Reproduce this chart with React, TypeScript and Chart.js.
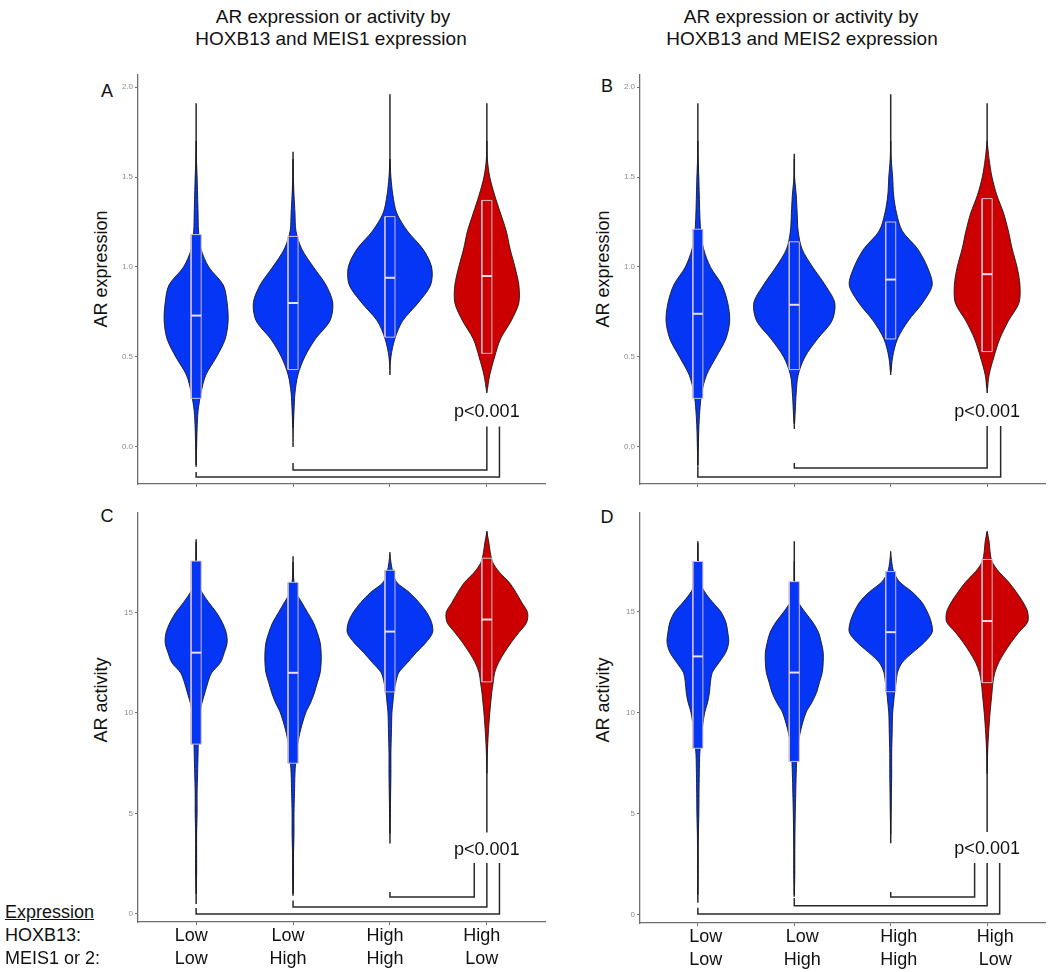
import React, { useEffect, useRef } from "react";
import { Chart, registerables } from "chart.js";

Chart.register(...registerables);

const FONT = "'Liberation Sans', Arial, Helvetica, sans-serif";

// ---------- shared categories / labels ----------
const categories = [1, 2, 3, 4];
const hoxb13Labels = ["Low", "Low", "High", "High"];
const meisLabels = ["Low", "High", "High", "Low"];
const groupColors = ["#0535f5", "#0535f5", "#0535f5", "#cc0000"];
const pValueText = "p<0.001";

const exprTicks = [0, 0.5, 1.0, 1.5, 2.0];
const actTicks = [0, 5, 10, 15];

// density levels (y) and half-widths (x units)
const exprLevels = [-0.1, 0, 0.1, 0.2, 0.3, 0.4, 0.5, 0.6, 0.7, 0.8, 0.9, 1.0, 1.1, 1.2, 1.3, 1.4, 1.5, 1.6, 1.7, 1.8, 1.9];
const actLevels = [0, 1, 2, 3, 4, 5, 6, 7, 8, 9, 10, 10.5, 11, 11.5, 12, 12.5, 13, 13.5, 14, 14.5, 15, 15.5, 16, 16.5, 17, 17.5, 18, 18.5, 19];

// ---------- Panel A: AR expression, MEIS1 ----------
const aViolin1 = [0, 0.005, 0.01, 0.02, 0.05, 0.1, 0.21, 0.3, 0.33, 0.32, 0.28, 0.13, 0.05, 0.025, 0.02, 0.015, 0.01, 0.003, 0, 0, 0];
const aViolin2 = [0, 0, 0.003, 0.01, 0.02, 0.05, 0.12, 0.23, 0.38, 0.41, 0.34, 0.21, 0.09, 0.03, 0.02, 0.01, 0.003, 0, 0, 0, 0];
const aViolin3 = [0, 0, 0, 0, 0, 0, 0.01, 0.05, 0.13, 0.29, 0.42, 0.43, 0.34, 0.18, 0.07, 0.03, 0.01, 0, 0, 0, 0];
const aViolin4 = [0, 0, 0, 0, 0, 0.03, 0.08, 0.14, 0.25, 0.33, 0.33, 0.29, 0.24, 0.2, 0.14, 0.08, 0.03, 0.005, 0, 0, 0];
const aMin = [-0.11, 0.11, 0.47, 0.33];
const aQ1 = [0.27, 0.43, 0.61, 0.52];
const aMedian = [0.73, 0.8, 0.94, 0.95];
const aQ3 = [1.18, 1.17, 1.28, 1.37];
const aMax = [1.91, 1.64, 1.96, 1.91];
const aBracketStart = [1, 2];
const aBracketEnd = [4.13, 4];
const aBracketTip = [-0.139, -0.089];
const aBracketBase = [-0.167, -0.128];
const aBracketTop = 0.113;
const aPValueY = 0.194;

// ---------- Panel B: AR expression, MEIS2 ----------
const bViolin1 = [0, 0.005, 0.01, 0.02, 0.04, 0.09, 0.19, 0.29, 0.33, 0.31, 0.25, 0.13, 0.06, 0.03, 0.02, 0.015, 0.01, 0.003, 0, 0, 0];
const bViolin2 = [0, 0, 0, 0.01, 0.02, 0.04, 0.11, 0.24, 0.39, 0.42, 0.32, 0.19, 0.08, 0.04, 0.03, 0.02, 0.003, 0, 0, 0, 0];
const bViolin3 = [0, 0, 0, 0, 0, 0, 0.02, 0.07, 0.18, 0.33, 0.43, 0.38, 0.28, 0.12, 0.06, 0.03, 0.02, 0.005, 0, 0, 0];
const bViolin4 = [0, 0, 0, 0, 0, 0.02, 0.07, 0.13, 0.22, 0.33, 0.34, 0.31, 0.26, 0.22, 0.17, 0.1, 0.05, 0.02, 0, 0, 0];
const bMin = [-0.11, 0.13, 0.42, 0.33];
const bQ1 = [0.27, 0.43, 0.6, 0.53];
const bMedian = [0.74, 0.79, 0.93, 0.96];
const bQ3 = [1.21, 1.14, 1.25, 1.38];
const bMax = [1.91, 1.63, 1.96, 1.91];
const bBracketStart = [1, 2];
const bBracketEnd = [4.14, 4];
const bBracketTip = [-0.111, -0.089];
const bBracketBase = [-0.167, -0.117];
const bBracketTop = 0.117;
const bPValueY = 0.196;

// ---------- Panel C: AR activity, MEIS1 ----------
const cViolin1 = [0, 0, 0.005, 0.005, 0.005, 0.01, 0.01, 0.015, 0.02, 0.025, 0.04, 0.06, 0.09, 0.12, 0.16, 0.25, 0.29, 0.32, 0.31, 0.27, 0.21, 0.13, 0.06, 0.01, 0.003, 0.003, 0.002, 0, 0];
const cViolin2 = [0, 0, 0.005, 0.005, 0.01, 0.01, 0.015, 0.02, 0.035, 0.07, 0.13, 0.18, 0.22, 0.25, 0.28, 0.29, 0.29, 0.28, 0.25, 0.21, 0.15, 0.09, 0.03, 0.01, 0.003, 0, 0, 0, 0];
const cViolin3 = [0, 0, 0, 0, 0, 0.004, 0.007, 0.01, 0.01, 0.015, 0.02, 0.03, 0.04, 0.06, 0.09, 0.18, 0.27, 0.37, 0.44, 0.43, 0.38, 0.3, 0.2, 0.07, 0.03, 0.01, 0, 0, 0];
const cViolin4 = [0, 0, 0, 0, 0, 0, 0, 0, 0.005, 0.015, 0.03, 0.04, 0.05, 0.065, 0.08, 0.12, 0.18, 0.25, 0.33, 0.41, 0.42, 0.36, 0.3, 0.23, 0.13, 0.06, 0.035, 0.02, 0];
const cMin = [0.5, 0.9, 3.5, 4.05];
const cQ1 = [8.45, 7.5, 11.05, 11.55];
const cMedian = [13.0, 12.0, 14.05, 14.65];
const cQ3 = [17.56, 16.5, 17.1, 17.7];
const cMax = [18.65, 17.8, 17.5, 19.05];
const cBracketStart = [1, 2, 3];
const cBracketEnd = [4.13, 4, 3.87];
const cBracketTip = [0.3, 0.67, 1.09];
const cBracketBase = [0, 0.35, 0.85];
const cBracketTop = 2.54;
const cPValueY = 3.18;

// ---------- Panel D: AR activity, MEIS2 ----------
const dViolin1 = [0, 0, 0.003, 0.003, 0.005, 0.01, 0.012, 0.015, 0.02, 0.04, 0.07, 0.1, 0.12, 0.13, 0.15, 0.22, 0.29, 0.32, 0.31, 0.29, 0.24, 0.15, 0.07, 0.02, 0.005, 0.003, 0.002, 0, 0];
const dViolin2 = [0, 0, 0.005, 0.005, 0.007, 0.01, 0.015, 0.02, 0.03, 0.06, 0.12, 0.18, 0.23, 0.26, 0.29, 0.3, 0.3, 0.28, 0.25, 0.19, 0.11, 0.04, 0.01, 0.003, 0.002, 0, 0, 0, 0];
const dViolin3 = [0, 0, 0, 0, 0, 0.004, 0.007, 0.01, 0.01, 0.015, 0.02, 0.03, 0.04, 0.055, 0.07, 0.12, 0.23, 0.35, 0.43, 0.42, 0.38, 0.32, 0.22, 0.09, 0.03, 0.01, 0, 0, 0];
const dViolin4 = [0, 0, 0, 0, 0, 0, 0, 0, 0.005, 0.015, 0.03, 0.04, 0.05, 0.06, 0.08, 0.12, 0.18, 0.25, 0.33, 0.42, 0.42, 0.37, 0.3, 0.22, 0.12, 0.05, 0.03, 0.02, 0];
const dMin = [0.6, 0.9, 3.55, 4.1];
const dQ1 = [8.25, 7.6, 11.05, 11.5];
const dMedian = [12.8, 12.0, 14.0, 14.55];
const dQ3 = [17.5, 16.5, 17.0, 17.6];
const dMax = [18.4, 18.5, 17.5, 18.95];
const dBracketStart = [1, 2, 3];
const dBracketEnd = [4.13, 4, 3.87];
const dBracketTip = [0.35, 0.84, 1.14];
const dBracketBase = [0.05, 0.45, 0.89];
const dBracketTop = 2.57;
const dPValueY = 3.25;

// ---------- styles ----------
const BOX_HALF = 0.052;
const AXIS_COLOR = "#6f6f6f";
const TICK_LABEL_COLOR = "#8a8a8a";
const LINE_DARK = "#2a2a2a";
const BOX_EDGE = "#cdbdd2";
const MEDIAN_COLOR = "#e9dfe9";

type PanelSpec = {
  key: string;
  box: { x: number; y: number; w: number; h: number };
  area: { left: number; top: number; right: number; bottom: number };
  levels: number[];
  violins: number[][];
  min: number[]; q1: number[]; med: number[]; q3: number[]; max: number[];
  yMin: number; yMax: number; yTicks: number[]; decimals: number;
  showXLabels: boolean; labelOffset: number;
  bStart: number[]; bEnd: number[]; bTip: number[]; bBase: number[]; bTop: number;
  pY: number;
};

const panels: PanelSpec[] = [
  {
    key: "A", box: { x: 100, y: 60, w: 460, h: 440 }, area: { left: 138, top: 75, right: 545, bottom: 484 },
    levels: exprLevels, violins: [aViolin1, aViolin2, aViolin3, aViolin4],
    min: aMin, q1: aQ1, med: aMedian, q3: aQ3, max: aMax,
    yMin: -0.206, yMax: 2.067, yTicks: exprTicks, decimals: 1, showXLabels: false, labelOffset: 0,
    bStart: aBracketStart, bEnd: aBracketEnd, bTip: aBracketTip, bBase: aBracketBase, bTop: aBracketTop, pY: aPValueY,
  },
  {
    key: "B", box: { x: 600, y: 60, w: 450, h: 440 }, area: { left: 640, top: 75, right: 1045, bottom: 484 },
    levels: exprLevels, violins: [bViolin1, bViolin2, bViolin3, bViolin4],
    min: bMin, q1: bQ1, med: bMedian, q3: bQ3, max: bMax,
    yMin: -0.206, yMax: 2.067, yTicks: exprTicks, decimals: 1, showXLabels: false, labelOffset: 0,
    bStart: bBracketStart, bEnd: bBracketEnd, bTip: bBracketTip, bBase: bBracketBase, bTop: bBracketTop, pY: bPValueY,
  },
  {
    key: "C", box: { x: 100, y: 500, w: 460, h: 472 }, area: { left: 138, top: 513, right: 545, bottom: 922 },
    levels: actLevels, violins: [cViolin1, cViolin2, cViolin3, cViolin4],
    min: cMin, q1: cQ1, med: cMedian, q3: cQ3, max: cMax,
    yMin: -0.4, yMax: 19.95, yTicks: actTicks, decimals: 0, showXLabels: true, labelOffset: -5,
    bStart: cBracketStart, bEnd: cBracketEnd, bTip: cBracketTip, bBase: cBracketBase, bTop: cBracketTop, pY: cPValueY,
  },
  {
    key: "D", box: { x: 600, y: 500, w: 450, h: 472 }, area: { left: 640, top: 513, right: 1045, bottom: 923 },
    levels: actLevels, violins: [dViolin1, dViolin2, dViolin3, dViolin4],
    min: dMin, q1: dQ1, med: dMedian, q3: dQ3, max: dMax,
    yMin: -0.4, yMax: 19.9, yTicks: actTicks, decimals: 0, showXLabels: true, labelOffset: 8,
    bStart: dBracketStart, bEnd: dBracketEnd, bTip: dBracketTip, bBase: dBracketBase, bTop: dBracketTop, pY: dPValueY,
  },
];

function violinOutline(c: number, levels: number[], widths: number[]) {
  let first = widths.findIndex((w) => w > 0);
  let last = widths.length - 1 - [...widths].reverse().findIndex((w) => w > 0);
  first = Math.max(0, first - 1);
  last = Math.min(widths.length - 1, last + 1);
  const pts: { x: number; y: number }[] = [];
  for (let i = first; i <= last; i++) pts.push({ x: c + widths[i], y: levels[i] });
  for (let i = last; i >= first; i--) pts.push({ x: c - widths[i], y: levels[i] });
  pts.push({ ...pts[0] });
  return pts;
}

const pValuePlugin = {
  id: "pvalue",
  afterDatasetsDraw(chart: any, _args: any, opts: any) {
    const { ctx, scales } = chart;
    ctx.save();
    ctx.font = `18px ${FONT}`;
    ctx.fillStyle = "#111";
    ctx.textAlign = "center";
    ctx.textBaseline = "middle";
    ctx.fillText(opts.text, scales.x.getPixelForValue(opts.x), scales.y.getPixelForValue(opts.y));
    ctx.restore();
  },
};

function buildConfig(p: PanelSpec): any {
  const datasets: any[] = [];
  const base = { pointRadius: 0, pointHoverRadius: 0, fill: false, tension: 0 };
  categories.forEach((c, i) => {
    datasets.push({
      ...base, order: 50,
      data: [{ x: c, y: p.min[i] }, { x: c, y: p.max[i] }],
      borderColor: LINE_DARK, borderWidth: 1.5,
    });
    datasets.push({
      ...base, order: 40, tension: 0.3,
      data: violinOutline(c, p.levels, p.violins[i]),
      fill: "shape", backgroundColor: groupColors[i],
      borderColor: "#1a1a1a", borderWidth: 0.9,
    });
    datasets.push({
      ...base, order: 30,
      data: [
        { x: c - BOX_HALF, y: p.q1[i] }, { x: c + BOX_HALF, y: p.q1[i] },
        { x: c + BOX_HALF, y: p.q3[i] }, { x: c - BOX_HALF, y: p.q3[i] },
        { x: c - BOX_HALF, y: p.q1[i] },
      ],
      fill: "shape", backgroundColor: groupColors[i],
      borderColor: BOX_EDGE, borderWidth: 1,
    });
    datasets.push({
      ...base, order: 20,
      data: [{ x: c - BOX_HALF, y: p.med[i] }, { x: c + BOX_HALF, y: p.med[i] }],
      borderColor: MEDIAN_COLOR, borderWidth: 2,
    });
  });
  p.bStart.forEach((s, j) => {
    datasets.push({
      ...base, order: 10,
      data: [
        { x: s, y: p.bTip[j] }, { x: s, y: p.bBase[j] },
        { x: p.bEnd[j], y: p.bBase[j] }, { x: p.bEnd[j], y: p.bTop },
      ],
      borderColor: LINE_DARK, borderWidth: 1.5,
    });
  });

  const yAxisWidth = p.area.left - p.box.x;
  const xAxisHeight = p.box.y + p.box.h - p.area.bottom;

  return {
    type: "line",
    data: { datasets },
    plugins: [pValuePlugin],
    options: {
      animation: false,
      responsive: false,
      events: [],
      layout: {
        padding: { left: 0, top: p.area.top - p.box.y, right: p.box.x + p.box.w - p.area.right, bottom: 0 },
      },
      plugins: {
        legend: { display: false },
        tooltip: { enabled: false },
        pvalue: { text: pValueText, x: 4, y: p.pY },
      },
      scales: {
        x: {
          type: "linear", min: 0.4, max: 4.6,
          afterBuildTicks: (s: any) => { s.ticks = categories.map((v) => ({ value: v })); },
          afterFit: (s: any) => { s.height = xAxisHeight; },
          grid: { display: true, drawOnChartArea: false, drawTicks: true, tickLength: 3, color: AXIS_COLOR, lineWidth: 1 },
          border: { display: true, color: AXIS_COLOR, width: 1.3 },
          ticks: {
            display: p.showXLabels,
            autoSkip: false, maxRotation: 0, padding: -1,
            labelOffset: p.labelOffset,
            color: "#111",
            font: { family: FONT, size: 18, lineHeight: 1.3 },
            callback: (_v: any, i: number) => [hoxb13Labels[i], meisLabels[i]],
          },
        },
        y: {
          type: "linear", min: p.yMin, max: p.yMax,
          afterBuildTicks: (s: any) => { s.ticks = p.yTicks.map((v) => ({ value: v })); },
          afterFit: (s: any) => { s.width = yAxisWidth; },
          grid: { display: true, drawOnChartArea: false, drawTicks: true, tickLength: 3, color: AXIS_COLOR, lineWidth: 1 },
          border: { display: true, color: AXIS_COLOR, width: 1.3 },
          ticks: {
            padding: 2,
            color: TICK_LABEL_COLOR,
            font: { family: FONT, size: 8 },
            callback: (v: any) => Number(v).toFixed(p.decimals),
          },
        },
      },
    },
  };
}

function Panel({ spec }: { spec: PanelSpec }) {
  const ref = useRef<HTMLCanvasElement>(null);
  useEffect(() => {
    const chart = new Chart(ref.current as HTMLCanvasElement, buildConfig(spec));
    return () => chart.destroy();
  }, [spec]);
  return (
    <canvas
      ref={ref}
      width={spec.box.w}
      height={spec.box.h}
      style={{ position: "absolute", left: spec.box.x, top: spec.box.y, width: spec.box.w, height: spec.box.h }}
    />
  );
}

const txt = (extra: React.CSSProperties): React.CSSProperties => ({
  position: "absolute",
  fontFamily: FONT,
  fontSize: 18,
  lineHeight: "18px",
  color: "#111",
  whiteSpace: "nowrap",
  ...extra,
});

const centered = (x: number, y: number, extra: React.CSSProperties = {}) =>
  txt({ left: x, top: y, transform: "translate(-50%, -50%)", ...extra });

const rotated = (x: number, y: number) =>
  txt({ left: x, top: y, transform: "translate(-50%, -50%) rotate(-90deg)" });

const leftMid = (x: number, y: number, extra: React.CSSProperties = {}) =>
  txt({ left: x, top: y, transform: "translateY(-50%)", ...extra });

const titleStyle = { fontSize: 19, lineHeight: "19px" };

export default function App() {
  return (
    <div style={{ position: "absolute", left: 0, top: 0, width: 1050, height: 972, background: "#fff", overflow: "hidden" }}>
      <div style={centered(333, 16, titleStyle)}>AR expression or activity by</div>
      <div style={centered(331, 38, titleStyle)}>HOXB13 and MEIS1 expression</div>
      <div style={centered(801, 16, titleStyle)}>AR expression or activity by</div>
      <div style={centered(802, 38, titleStyle)}>HOXB13 and MEIS2 expression</div>

      <div style={centered(107, 91)}>A</div>
      <div style={centered(607, 86)}>B</div>
      <div style={centered(107, 516)}>C</div>
      <div style={centered(607, 517)}>D</div>

      <div style={rotated(101, 269)}>AR expression</div>
      <div style={rotated(603, 269)}>AR expression</div>
      <div style={rotated(101, 700)}>AR activity</div>
      <div style={rotated(603, 700)}>AR activity</div>

      {panels.map((p) => (
        <Panel key={p.key} spec={p} />
      ))}

      <div style={leftMid(5, 912, { textDecoration: "underline" })}>Expression</div>
      <div style={leftMid(5, 935)}>HOXB13:</div>
      <div style={leftMid(5, 958)}>MEIS1 or 2:</div>
    </div>
  );
}
